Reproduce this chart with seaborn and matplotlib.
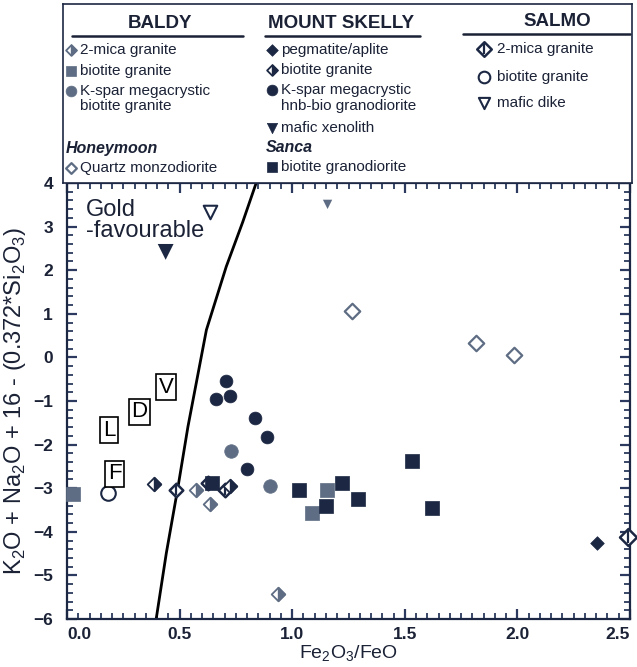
import matplotlib
matplotlib.use('Agg')
import matplotlib.pyplot as plt
from matplotlib.markers import MarkerStyle
from matplotlib.ticker import MultipleLocator
import seaborn as sns
import pandas as pd

escuro = '#1c2843'
cinza = '#5e6d83'
texto = '#1b2236'
cor_traco = '#2b3a5e'

# Baldy
baldy_mica_x = [0.574, 0.633, 0.937]
baldy_mica_y = [-3.04, -3.36, -5.43]
baldy_bio_x = [0.026, 1.156, 1.088]
baldy_bio_y = [-3.13, -3.04, -3.56]
baldy_kspar_x = [0.73, 0.903]
baldy_kspar_y = [-2.14, -2.95]

# Mount Skelly
ms_pegm_x = [2.352]
ms_pegm_y = [-4.26]
ms_bio_x = [0.386, 0.722]
ms_bio_y = [-2.90, -2.95]
ms_kspar_x = [0.704, 0.663, 0.722, 0.833, 0.89, 0.80]
ms_kspar_y = [-0.54, -0.95, -0.88, -1.40, -1.83, -2.56]
ms_xeno_x = [0.438, 1.157]
ms_xeno_y = [2.42, 3.51]
ms_xeno_tam = [130, 45]

# Honeymoon / Sanca
honey_qmd_x = [1.264, 1.816, 1.985]
honey_qmd_y = [1.06, 0.34, 0.06]
sanca_bio_x = [0.645, 1.03, 1.149, 1.219, 1.29, 1.534, 1.619]
sanca_bio_y = [-2.87, -3.03, -3.41, -2.89, -3.25, -2.38, -3.46]

# Salmo
salmo_mica_x = [0.485, 0.624, 0.703, 2.49]
salmo_mica_y = [-3.04, -2.87, -3.04, -4.13]
salmo_bio_x = [0.181]
salmo_bio_y = [-3.10]
salmo_dike_x = [0.633]
salmo_dike_y = [3.34]

# curva limite
limite_x = [0.396, 0.441, 0.493, 0.537, 0.619, 0.707, 0.78, 0.84]
limite_y = [-6.0, -4.49, -2.97, -1.59, 0.63, 2.08, 3.1, 4.0]

# caixas com letras
letras = ['V', 'D', 'L', 'F']
letras_x = [0.44, 0.322, 0.187, 0.211]
letras_y = [-0.68, -1.25, -1.67, -2.67]


def pontos(ax, x, y, tipo, s, z=3):
    df = pd.DataFrame({'x': x, 'y': y})
    if tipo in ('meio_cinza', 'meio_escuro'):
        cor = cinza if tipo == 'meio_cinza' else escuro
        sns.scatterplot(data=df, x='x', y='y', ax=ax, marker='D', s=s, color='white',
                        edgecolor=cor, linewidth=1.3, zorder=z, clip_on=False)
        sns.scatterplot(data=df, x='x', y='y', ax=ax, marker=MarkerStyle('D', fillstyle='right'),
                        s=s, color=cor, edgecolor=cor, linewidth=1.0, zorder=z + 0.1, clip_on=False)
    elif tipo == 'salmo_mica':
        sns.scatterplot(data=df, x='x', y='y', ax=ax, marker='D', s=s, color='white',
                        edgecolor=escuro, linewidth=1.8, zorder=z, clip_on=False)
        sns.scatterplot(data=df, x='x', y='y', ax=ax, marker='|', s=s * 1.1, color=escuro,
                        linewidth=1.6, zorder=z + 0.1, clip_on=False)
    else:
        marcador, fc, ec, lw = {
            'quad_cinza': ('s', cinza, cinza, 0.5),
            'quad_escuro': ('s', escuro, escuro, 0.5),
            'circ_cinza': ('o', cinza, cinza, 0.5),
            'circ_escuro': ('o', escuro, escuro, 0.5),
            'tri_escuro': ('v', escuro, escuro, 0.5),
            'diam_aberto': ('D', 'white', cinza, 1.6),
            'diam_escuro': ('D', escuro, escuro, 0.5),
            'circ_aberto': ('o', 'white', escuro, 1.5),
            'tri_aberto': ('v', 'white', escuro, 1.5),
        }[tipo]
        sns.scatterplot(data=df, x='x', y='y', ax=ax, marker=marcador, s=s, color=fc,
                        edgecolor=ec, linewidth=lw, zorder=z, clip_on=False)


sns.set_style('ticks')
plt.rcParams['font.family'] = ['Liberation Sans', 'DejaVu Sans']
plt.rcParams['mathtext.fontset'] = 'custom'
plt.rcParams['mathtext.rm'] = 'Liberation Sans'
plt.rcParams['mathtext.bf'] = 'Liberation Sans:bold'

fig = plt.figure(figsize=(6.37, 6.67), dpi=100)
ax = fig.add_axes([67 / 637, 48 / 667, 563 / 637, 436 / 667])

# curva
sns.lineplot(x=limite_x, y=limite_y, ax=ax, color='black', linewidth=2.0, sort=False, zorder=2)

pontos(ax, baldy_bio_x, baldy_bio_y, 'quad_cinza', 110)
pontos(ax, sanca_bio_x, sanca_bio_y, 'quad_escuro', 105, z=4)
pontos(ax, salmo_mica_x[:3], salmo_mica_y[:3], 'salmo_mica', 48)
pontos(ax, salmo_mica_x[3:], salmo_mica_y[3:], 'salmo_mica', 75)
pontos(ax, baldy_mica_x, baldy_mica_y, 'meio_cinza', 48, z=5)
pontos(ax, ms_bio_x, ms_bio_y, 'meio_escuro', 48, z=5)
pontos(ax, baldy_kspar_x, baldy_kspar_y, 'circ_cinza', 95)
pontos(ax, ms_kspar_x, ms_kspar_y, 'circ_escuro', 85)
pontos(ax, ms_pegm_x, ms_pegm_y, 'diam_escuro', 48)
pontos(ax, honey_qmd_x, honey_qmd_y, 'diam_aberto', 62)
pontos(ax, salmo_bio_x, salmo_bio_y, 'circ_aberto', 110)
pontos(ax, salmo_dike_x, salmo_dike_y, 'tri_aberto', 95)
sns.scatterplot(x=ms_xeno_x, y=ms_xeno_y, size=ms_xeno_tam, sizes=(45, 130), ax=ax, marker='v',
                hue=['a', 'b'], palette=[escuro, cinza], edgecolor='none', legend=False, zorder=3)

for letra, lx, ly in zip(letras, letras_x, letras_y):
    ax.text(lx, ly, letra, ha='center', va='center', fontsize=16, color='black', zorder=6,
            bbox=dict(boxstyle='square,pad=0.12', fc='white', ec='black', lw=1.2))

ax.text(0.085, 3.64, 'Gold\n-favourable', ha='left', va='top', fontsize=17, color=texto,
        linespacing=0.95)

ax.set_xlim(0, 2.5)
ax.set_ylim(-6, 4)
ax.set_xticks([0, 0.5, 1.0, 1.5, 2.0, 2.5])
ax.set_xticklabels(['0.0', '0.5', '1.0', '1.5', '2.0', '2.5'])
ax.xaxis.set_minor_locator(MultipleLocator(0.05))
ax.yaxis.set_major_locator(MultipleLocator(1))
ax.yaxis.set_minor_locator(MultipleLocator(0.2))
ax.tick_params(which='both', direction='in', top=True, right=True, color=cor_traco)
ax.tick_params(which='major', length=7, width=1.6, labelsize=12.5, labelcolor=texto)
ax.tick_params(which='minor', length=4, width=1.3)
ax.tick_params(axis='y', which='major', pad=10)
ax.tick_params(axis='x', which='major', pad=6)
for lab in ax.get_xticklabels() + ax.get_yticklabels():
    lab.set_fontweight('bold')
xl = ax.get_xticklabels()
xl[0].set_horizontalalignment('left')
xl[-1].set_horizontalalignment('right')
for sp in ax.spines.values():
    sp.set_color(escuro)
    sp.set_linewidth(1.6)

ax.set_xlabel('Fe$_2$O$_3$/FeO', fontsize=14, color=texto, labelpad=1)
ax.set_ylabel('K$_2$O + Na$_2$O + 16 - (0.372*Si$_2$O$_3$)', fontsize=17, color=texto, labelpad=4)

# legenda
lg = fig.add_axes([63 / 637, 484 / 667, 569 / 637, 179 / 667])
lg.set_xlim(63, 632)
lg.set_ylim(183, 4)
lg.set_xticks([])
lg.set_yticks([])
for sp in lg.spines.values():
    sp.set_color(escuro)
    sp.set_linewidth(1.2)

cabecalhos = [('BALDY', 160, 24, 72, 243), ('MOUNT SKELLY', 341, 24, 265, 420), ('SALMO', 557, 22, 463, 630)]
for nome, cx, cy, u0, u1 in cabecalhos:
    lg.text(cx, cy, nome, ha='center', va='center', fontsize=13.5, fontweight='bold', color=texto)
    lg.plot([u0, u1], [cy + 12, cy + 12], color=texto, lw=1.8)

itens = [
    ('meio_cinza', 71, 50, 30, '2-mica granite'),
    ('quad_cinza', 71, 71, 55, 'biotite granite'),
    ('circ_cinza', 71, 91, 60, 'K-spar megacrystic'),
    (None, 71, 106, 0, 'biotite granite'),
    ('diam_aberto', 71, 168, 30, 'Quartz monzodiorite'),
    ('diam_escuro', 272, 50, 35, 'pegmatite/aplite'),
    ('meio_escuro', 272, 70, 30, 'biotite granite'),
    ('circ_escuro', 272, 90, 60, 'K-spar megacrystic'),
    (None, 272, 106, 0, 'hnb-bio granodiorite'),
    ('tri_escuro', 272, 128, 55, 'mafic xenolith'),
    ('quad_escuro', 272, 167, 55, 'biotite granodiorite'),
    ('salmo_mica', 484, 49, 55, '2-mica granite'),
    ('circ_aberto', 484, 77, 70, 'biotite granite'),
    ('tri_aberto', 484, 103, 65, 'mafic dike'),
]
for tipo, mx, my, s, rotulo in itens:
    if tipo is not None:
        pontos(lg, [mx], [my], tipo, s)
    dx = 13 if mx > 400 else 9
    lg.text(mx + dx, my, rotulo, ha='left', va='center', fontsize=11, color=texto)

lg.text(66, 149, 'Honeymoon', ha='left', va='center', fontsize=11.5, fontweight='bold',
        style='italic', color=texto)
lg.text(266, 148, 'Sanca', ha='left', va='center', fontsize=11.5, fontweight='bold',
        style='italic', color=texto)

plt.savefig('out.png', dpi=100)
